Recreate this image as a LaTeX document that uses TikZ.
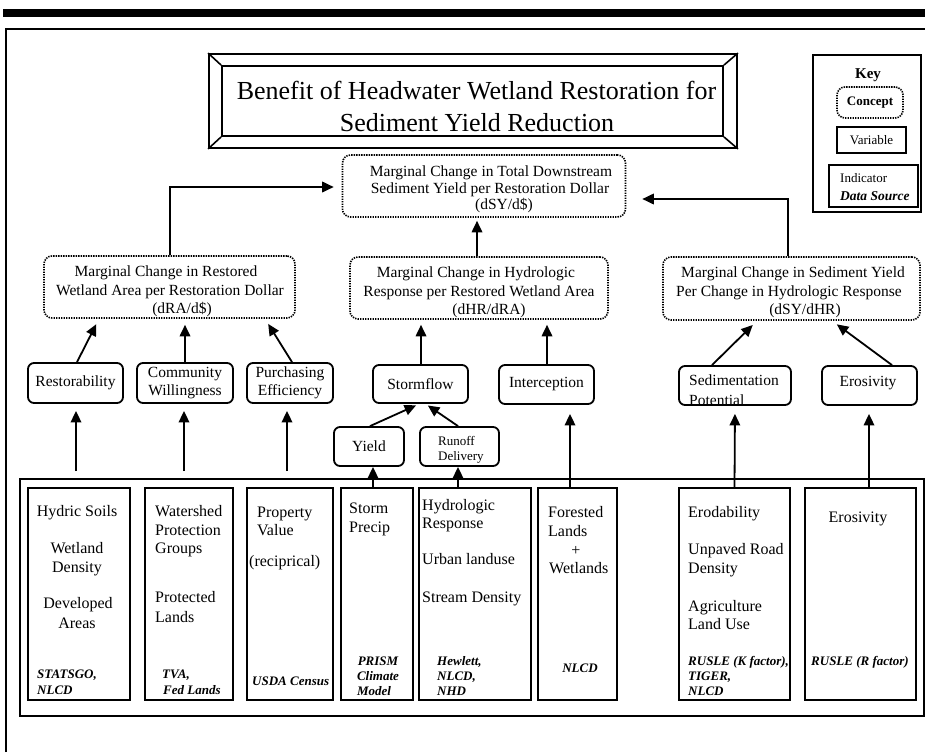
\documentclass[tikz,border=0pt]{standalone}
\usepackage{fontspec}
\setmainfont{Liberation Serif}
\usetikzlibrary{arrows.meta,calc}

\tikzset{
  concept/.style={draw, line width=1.6pt, dash pattern=on 1.4pt off 1.1pt, rounded corners=8pt, inner sep=0pt},
  varbox/.style={draw, line width=1.8pt, rounded corners=6pt, inner sep=0pt, align=center,
                 font=\fontsize{15.5}{18}\selectfont},
  indbox/.style={draw, line width=2pt, inner sep=0pt},
  ctxt/.style={inner sep=0pt, anchor=base, font=\fontsize{15.5}{18}\selectfont},
  itxt/.style={inner sep=0pt, anchor=base west, font=\fontsize{16}{19}\selectfont},
  ctrtxt/.style={inner sep=0pt, anchor=base, font=\fontsize{16}{19}\selectfont},
  srctxt/.style={inner sep=0pt, anchor=base west, font=\fontsize{13}{15}\selectfont\bfseries\itshape},
  srcctr/.style={inner sep=0pt, anchor=base, font=\fontsize{13}{15}\selectfont\bfseries\itshape},
  arr/.style={line width=1.8pt, -{Triangle[length=11.5pt,width=10.5pt]}},
  bevel/.style={line width=1.6pt},
}

\begin{document}
\begin{tikzpicture}[x=1pt,y=-1pt]
\useasboundingbox (0,0) rectangle (925,752);

% page rule and frame
\fill (3,9) rectangle (925,17.5);
\draw[line width=2pt] (5.5,752) -- (5.5,29.5) -- (925,29.5);

% ---- title plate ----
\node[draw, line width=1.8pt, minimum width=528pt, minimum height=94pt, inner sep=0pt] (tout) at (473,101) {};
\node[draw, line width=1.8pt, minimum width=501pt, minimum height=70pt, inner sep=0pt] (tin) at (472.5,101) {};
\draw[bevel] (tout.north west) -- (tin.north west);
\draw[bevel] (tout.north east) -- (tin.north east);
\draw[bevel] (tout.south west) -- (tin.south west);
\draw[bevel] (tout.south east) -- (tin.south east);
\node[inner sep=0pt, anchor=base, font=\fontsize{26}{30}\selectfont] (ttl1) at (476.5,99) {Benefit of Headwater Wetland Restoration for};
\node[inner sep=0pt, anchor=base, font=\fontsize{26}{30}\selectfont] (ttl2) at (477,131) {Sediment Yield Reduction};

% ---- key ----
\node[draw, line width=1.5pt, minimum width=108pt, minimum height=157pt, inner sep=0pt] (key) at (867,133.5) {};
\node[inner sep=0pt, anchor=base, font=\fontsize{15}{18}\selectfont\bfseries] (keyt) at (868,78) {Key};
\node[concept, minimum width=66pt, minimum height=31pt, font=\fontsize{13}{15}\selectfont\bfseries] (kc) at (870,102.5) {Concept};
\node[indbox, minimum width=69pt, minimum height=26pt, font=\fontsize{13}{15}\selectfont] (kv) at (871.5,140) {Variable};
\node[indbox, line width=2.2pt, minimum width=89pt, minimum height=42pt] (ki) at (873.5,186) {};
\node[inner sep=0pt, anchor=base west, font=\fontsize{13}{15}\selectfont] (kit) at (840,182) {Indicator};
\node[inner sep=0pt, anchor=base west, font=\fontsize{13.5}{15}\selectfont\bfseries\itshape] (kis) at (840,200) {Data Source};

% ---- concepts ----
\node[concept, minimum width=283pt, minimum height=62pt] (dsy) at (484,186) {};
\node[ctxt] (dsy1) at (491,176) {Marginal Change in Total Downstream};
\node[ctxt] (dsy2) at (490,193) {Sediment Yield per Restoration Dollar};
\node[ctxt] (dsy3) at (504,209) {(dSY/d\$)};

\node[concept, minimum width=251pt, minimum height=62pt] (dra) at (169.5,287) {};
\node[ctxt] (dra1) at (166,276) {Marginal Change in Restored};
\node[ctxt] (dra2) at (170,295) {Wetland Area per Restoration Dollar};
\node[ctxt] (dra3) at (182,313) {(dRA/d\$)};

\node[concept, minimum width=258pt, minimum height=62pt] (dhr) at (479,288) {};
\node[ctxt] (dhr1) at (476,277) {Marginal Change in Hydrologic};
\node[ctxt] (dhr2) at (479,296) {Response per Restored Wetland Area};
\node[ctxt] (dhr3) at (489,314) {(dHR/dRA)};

\node[concept, minimum width=257pt, minimum height=63pt] (dsh) at (791.5,288.5) {};
\node[ctxt] (dsh1) at (793,277) {Marginal Change in Sediment Yield};
\node[ctxt] (dsh2) at (789,296) {Per Change in Hydrologic Response};
\node[ctxt] (dsh3) at (805,314) {(dSY/dHR)};

% ---- variables ----
\node[varbox, minimum width=95pt, minimum height=40pt] (rest) at (75.5,383) {Restorability};
\node[varbox, minimum width=96pt, minimum height=40pt] (comm) at (185,383) {Community\\Willingness};
\node[varbox, minimum width=86pt, minimum height=40pt] (purch) at (290,383) {Purchasing\\Efficiency};
\node[varbox, minimum width=95pt, minimum height=38pt] (storm) at (420.5,384) {Stormflow};
\node[varbox, minimum width=95pt, minimum height=39pt] (inter) at (546.5,384.5) {Interception};
\node[varbox, minimum width=112pt, minimum height=39pt] (sedp) at (735,385.5) {};
\node[inner sep=0pt, anchor=base west, font=\fontsize{15.5}{18}\selectfont] (sedp1) at (689,385) {Sedimentation};
\node[inner sep=0pt, anchor=base west, font=\fontsize{15.5}{18}\selectfont] (sedp2) at (689,405) {Potential};
\node[varbox, minimum width=95pt, minimum height=39pt] (eros) at (869.5,385.5) {};
\node[ctxt] (eros1) at (868,386) {Erosivity};
\node[varbox, minimum width=70pt, minimum height=39pt] (yield) at (369,446.5) {Yield};
\node[varbox, minimum width=79pt, minimum height=39pt] (runoff) at (459.5,446.5) {};
\node[inner sep=0pt, anchor=base west, font=\fontsize{13}{15}\selectfont] (runoff1) at (438,445) {Runoff};
\node[inner sep=0pt, anchor=base west, font=\fontsize{13}{15}\selectfont] (runoff2) at (438,460) {Delivery};

% ---- indicator panel ----
\node[draw, line width=2.6pt, minimum width=904pt, minimum height=237pt, inner sep=0pt] (cont) at (472,597.5) {};
\node[indbox, minimum width=102pt, minimum height=212pt] (hyd) at (79,594) {};
\node[indbox, minimum width=88pt, minimum height=212pt] (wat) at (189,594) {};
\node[indbox, minimum width=86pt, minimum height=212pt] (prop) at (290,594) {};
\node[indbox, minimum width=72pt, minimum height=212pt] (stp) at (377,594) {};
\node[indbox, minimum width=112pt, minimum height=212pt] (hyr) at (475,594) {};
\node[indbox, minimum width=79pt, minimum height=212pt] (forl) at (577.5,594) {};
\node[indbox, minimum width=111pt, minimum height=212pt] (erod) at (734.5,594) {};
\node[indbox, minimum width=111pt, minimum height=212pt] (erv) at (860.5,594) {};

% hydric soils column
\node[ctrtxt] (h1) at (77,516) {Hydric Soils};
\node[ctrtxt] (h2) at (77,553) {Wetland};
\node[ctrtxt] (h3) at (77,572) {Density};
\node[ctrtxt] (h4) at (78,608) {Developed};
\node[ctrtxt] (h5) at (77,628) {Areas};
\node[srctxt] (hs1) at (37,678) {STATSGO,};
\node[srctxt] (hs2) at (37,694) {NLCD};

% watershed column
\node[itxt] (w1) at (155,516) {Watershed};
\node[itxt] (w2) at (155,535) {Protection};
\node[itxt] (w3) at (155,553) {Groups};
\node[itxt] (w4) at (155,602) {Protected};
\node[itxt] (w5) at (155,622) {Lands};
\node[srctxt] (ws1) at (162,678) {TVA,};
\node[srctxt] (ws2) at (163,694) {Fed Lands};

% property column
\node[itxt] (p1) at (257,517) {Property};
\node[itxt] (p2) at (257,535) {Value};
\node[itxt] (p3) at (249,566) {(reciprical)};
\node[srctxt] (ps1) at (252,685) {USDA Census};

% storm precip column
\node[itxt] (s1) at (349,513) {Storm};
\node[itxt] (s2) at (349,532) {Precip};
\node[srcctr] (ss1) at (378,665) {PRISM};
\node[srcctr] (ss2) at (378,680) {Climate};
\node[srcctr] (ss3) at (374,695) {Model};

% hydrologic response column
\node[itxt] (r1) at (422,510) {Hydrologic};
\node[itxt] (r2) at (422,528) {Response};
\node[itxt] (r3) at (422,564) {Urban landuse};
\node[itxt] (r4) at (422,602) {Stream Density};
\node[srctxt] (rs1) at (437,665) {Hewlett,};
\node[srctxt] (rs2) at (437,680) {NLCD,};
\node[srctxt] (rs3) at (437,695) {NHD};

% forested lands column
\node[itxt] (f1) at (548,517) {Forested};
\node[itxt] (f2) at (548,536) {Lands};
\node[ctrtxt] (f3) at (576,555) {+};
\node[itxt] (f4) at (549,573) {Wetlands};
\node[srcctr] (fs1) at (580,672) {NLCD};

% erodability column
\node[itxt] (e1) at (688,517) {Erodability};
\node[itxt] (e2) at (688,554) {Unpaved Road};
\node[itxt] (e3) at (688,573) {Density};
\node[itxt] (e4) at (688,611) {Agriculture};
\node[itxt] (e5) at (688,629) {Land Use};
\node[srctxt] (es1) at (688,665) {RUSLE (K factor),};
\node[srctxt] (es2) at (688,680) {TIGER,};
\node[srctxt] (es3) at (688,695) {NLCD};

% erosivity column
\node[ctrtxt] (v1) at (858,522) {Erosivity};
\node[srctxt] (vs1) at (811,665) {RUSLE (R factor)};

% ---- connectors: indicators to variables ----
\draw[arr, shorten >=7pt] ([xshift=-3pt,yshift=16pt]hyd.north) -- ([xshift=0.5pt]rest.south);
\draw[arr, shorten >=7pt] ([xshift=-5pt,yshift=16pt]wat.north) -- ([xshift=-1pt]comm.south);
\draw[arr, shorten >=7pt] ([xshift=-3pt,yshift=16pt]prop.north) -- ([xshift=-3pt]purch.south);
\draw[arr] ([xshift=-4pt]stp.north) -- ([xshift=4pt]yield.south);
\draw[arr] ([xshift=-17pt]hyr.north) -- ([xshift=-1.5pt]runoff.south);
\draw[arr, shorten >=9pt] ([xshift=-7.5pt]forl.north) -- ([xshift=23.5pt]inter.south);
\draw[arr, shorten >=8pt] (erod.north) -- (sedp.south);
\draw[arr, shorten >=8pt] ([xshift=8.5pt]erv.north) -- ([xshift=-0.5pt]eros.south);

% ---- connectors: variables to concepts ----
\draw[arr, shorten >=1pt] ([xshift=1pt]yield.north) -- ([xshift=-3.5pt,yshift=-1pt]storm.south);
\draw[arr, shorten >=1pt] ([xshift=-1.5pt]runoff.north) -- ([xshift=6.5pt,yshift=-1pt]storm.south);
\draw[arr, shorten >=6pt] ([xshift=1.5pt]rest.north) -- ([xshift=-70.5pt]dra.south);
\draw[arr, shorten >=6pt] (comm.north) -- ([xshift=15.5pt]dra.south);
\draw[arr, shorten >=6pt] ([xshift=2pt]purch.north) -- ([xshift=95.5pt]dra.south);
\draw[arr, shorten >=5pt] ([xshift=0.5pt]storm.north) -- ([xshift=-58pt]dhr.south);
\draw[arr, shorten >=5pt] ([xshift=0.5pt]inter.north) -- ([xshift=68pt]dhr.south);
\draw[arr, shorten >=6pt] ([xshift=-23pt]sedp.north) -- ([xshift=-34.5pt]dsh.south);
\draw[arr, shorten >=6pt] ([xshift=22.5pt]eros.north) -- ([xshift=40.5pt]dsh.south);

% ---- connectors: concepts to the overall benefit ----
\draw[arr, shorten >=8pt] ([xshift=0.5pt]dra.north) |- ([yshift=-1pt]dsy.west);
\draw[arr, shorten >=16pt] ([xshift=-3.5pt]dsh.north) |- ([yshift=-13pt]dsy.east);
\draw[arr, shorten >=3pt] ([xshift=-2pt]dhr.north) -- ([xshift=-7pt]dsy.south);
\end{tikzpicture}
\end{document}
